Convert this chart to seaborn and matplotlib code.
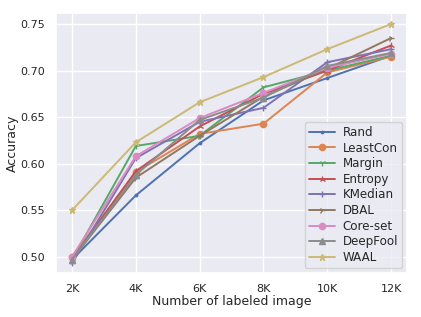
import matplotlib
matplotlib.use("Agg")
import matplotlib.pyplot as plt
import pandas as pd
import seaborn as sns

# ---------------------------------------- DATA ----------------------------------------
budgets = [2, 4, 6, 8, 10, 12]
budget_labels = ["2K", "4K", "6K", "8K", "10K", "12K"]

rand = [0.497, 0.566, 0.622, 0.668, 0.692, 0.716]
least_con = [0.500, 0.591, 0.632, 0.643, 0.698, 0.715]
margin = [0.497, 0.619, 0.630, 0.682, 0.700, 0.716]
entropy = [0.497, 0.592, 0.640, 0.675, 0.700, 0.727]
kmedian = [0.493, 0.606, 0.645, 0.660, 0.709, 0.723]
dbal = [0.497, 0.585, 0.630, 0.672, 0.702, 0.735]
core_set = [0.500, 0.608, 0.649, 0.676, 0.703, 0.718]
deepfool = [0.497, 0.588, 0.647, 0.671, 0.705, 0.719]
waal = [0.550, 0.623, 0.666, 0.693, 0.723, 0.750]

methods = ["Rand", "LeastCon", "Margin", "Entropy", "KMedian", "DBAL", "Core-set", "DeepFool", "WAAL"]
scores = [rand, least_con, margin, entropy, kmedian, dbal, core_set, deepfool, waal]
markers = [".", "o", "1", "2", "+", "4", "o", "^", "*"]
msizes = [3.5, 4.5, 4.5, 4.5, 4.5, 4.5, 4.5, 4.5, 5]

# ---------------------------------------- PLOT ----------------------------------------
sns.set_theme(style="darkgrid")
colors = sns.color_palette("deep", 9)

fig = plt.figure(figsize=(4.21, 3.17), dpi=100)
ax = fig.add_axes([0.133, 0.139, 0.834, 0.820])

for name, vals, mk, ms, col in zip(methods, scores, markers, msizes, colors):
    df = pd.DataFrame({"budget": budgets, "acc": vals})
    sns.lineplot(x="budget", y="acc", data=df, ax=ax, label=name, color=col,
                 marker=mk, markersize=ms, markeredgecolor=col, markeredgewidth=1,
                 linewidth=1.4)

ax.set_xticks(budgets)
ax.set_xticklabels(budget_labels)
ax.set_yticks([0.50, 0.55, 0.60, 0.65, 0.70, 0.75])
ax.set_xlim(1.5, 12.5)
ax.set_ylim(0.4828, 0.7618)
ax.tick_params(labelsize=8, pad=2)
ax.set_xlabel("Number of labeled image", fontsize=9, labelpad=1)
ax.set_ylabel("Accuracy", fontsize=9, labelpad=1)
ax.legend(loc="lower right", fontsize=8.6, handlelength=2.2, labelspacing=0.22,
          borderpad=0.35, handletextpad=0.6, borderaxespad=0.4)

fig.savefig("out.png", dpi=100)
